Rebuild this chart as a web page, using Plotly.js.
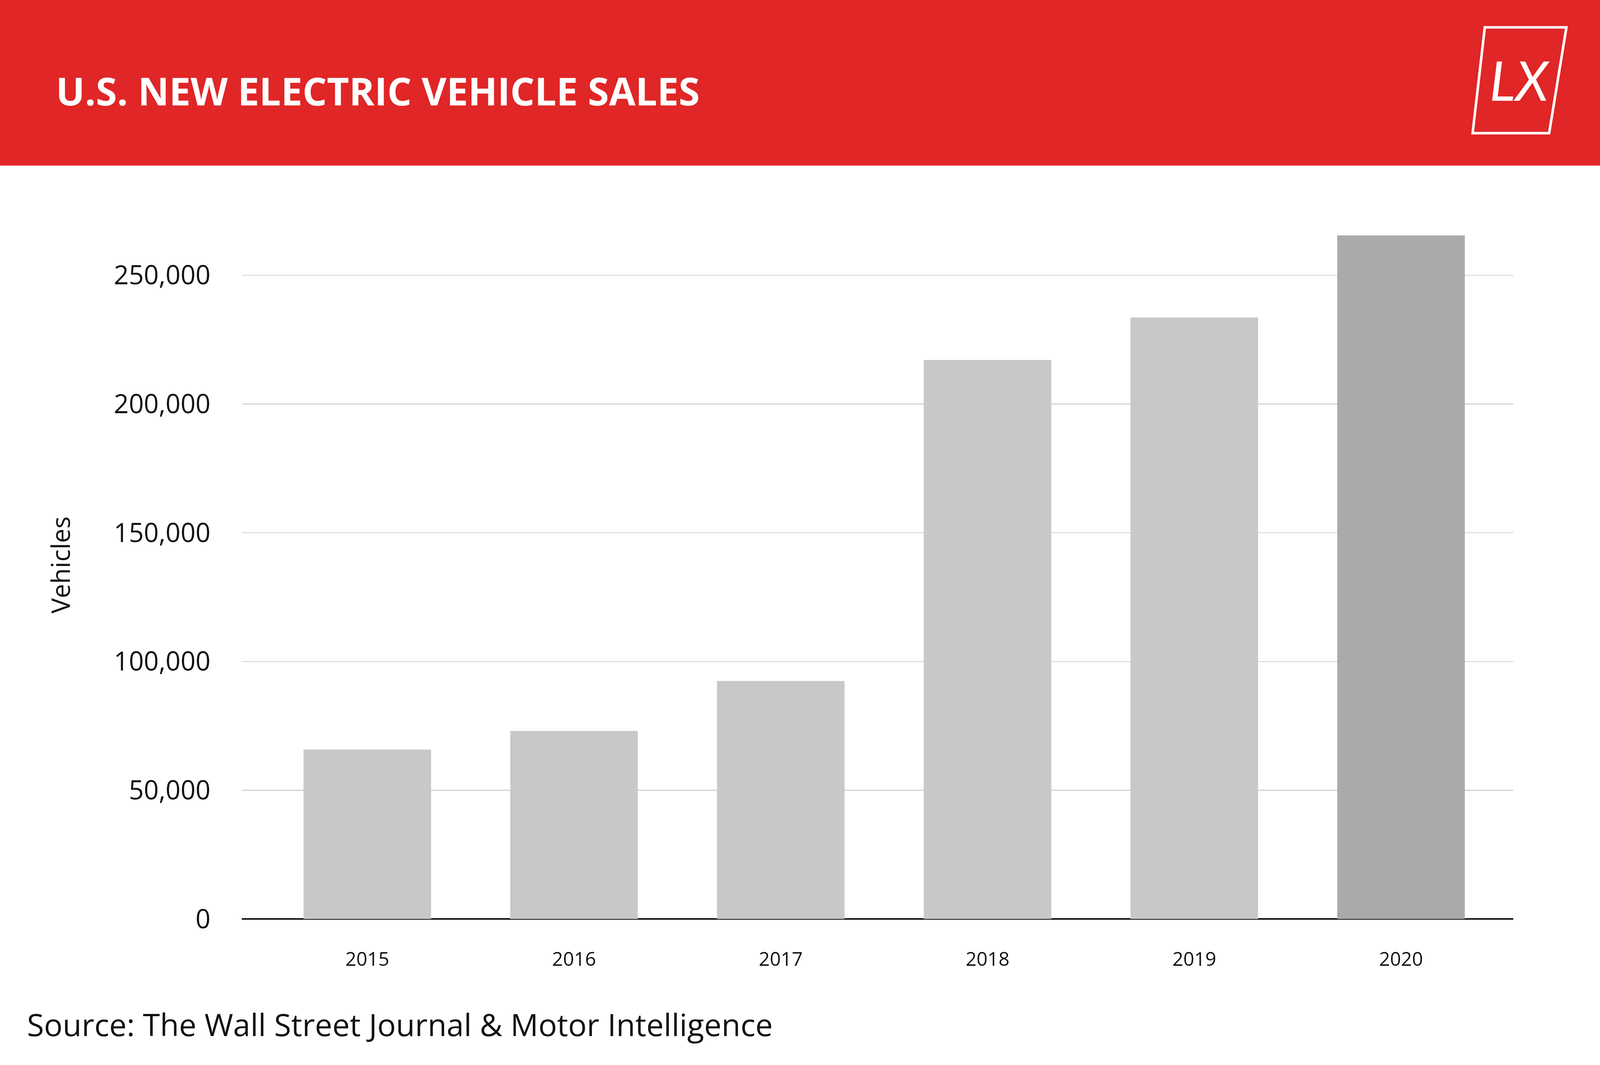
<!DOCTYPE html>
<html>
<head>
<meta charset="utf-8">
<script src="https://cdn.plot.ly/plotly-3.0.1.min.js"></script>
<style>html,body{margin:0;padding:0;background:#fff;overflow:hidden}</style>
</head>
<body>
<div id="graph"></div>
<script>
// U.S. new electric vehicle sales, bar chart
const years = ["2015", "2016", "2017", "2018", "2019", "2020"];
const sales = [65800, 73000, 92400, 217100, 233600, 265500];
const barColors = ["#c8c8c8", "#c8c8c8", "#c8c8c8", "#c8c8c8", "#c8c8c8", "#aaaaaa"];
const yTicks = [0, 50000, 100000, 150000, 200000, 250000];
const yTickText = ["0", "50,000", "100,000", "150,000", "200,000", "250,000"];

// design is in 5000x2727 units, scaled to fill the actual window
const W = window.innerWidth, H = window.innerHeight;
const sx = W / 5000, sy = H / 2727;
const s = Math.min(sx, sy);
const margin = { l: 756 * sx, r: 271 * sx, t: 540 * sy, b: 374 * sy };
const pw = W - margin.l - margin.r;
const ph = H - margin.t - margin.b;
// design pixel -> paper helpers for decorations
const px = (x) => (x * sx - margin.l) / pw;
const py = (y) => (H - margin.b - y * sy) / ph;

const trace = {
  x: years,
  y: sales,
  type: "bar",
  marker: { color: barColors },
  hoverinfo: "none",
};

const logo = [[4640, 70], [4895, 70], [4841, 341], [4602, 341]];
const logoPath = "M " + logo.map((p) => px(p[0]) + "," + py(p[1])).join(" L ") + " Z";

const layout = {
  width: W,
  height: H,
  margin: margin,
  paper_bgcolor: "#fff",
  plot_bgcolor: "#fff",
  bargap: 0.383,
  showlegend: false,
  font: { family: "'Open Sans', Lato, sans-serif", color: "#111" },
  xaxis: {
    type: "category",
    range: [-0.607, 5.543],
    tickfont: { size: 60 * s, color: "#111" },
    ticks: "outside",
    ticklen: 60 * sy,
    tickcolor: "rgba(0,0,0,0)",
    showline: false,
  },
  yaxis: {
    range: [0, 275000],
    tickvals: yTicks,
    ticktext: yTickText,
    tickfont: { size: 82 * s, color: "#111" },
    ticks: "outside",
    ticklen: 80 * sx,
    tickcolor: "rgba(0,0,0,0)",
    gridcolor: "#d2d2d2",
    gridwidth: 3 * s,
    zeroline: true,
    zerolinecolor: "#111",
    zerolinewidth: 6 * s,
    title: { text: "Vehicles", font: { size: 80 * s, color: "#111" }, standoff: 110 * sx },
  },
  shapes: [
    {
      type: "rect", xref: "paper", yref: "paper", layer: "below",
      x0: px(0), x1: px(5000), y0: py(424), y1: py(0),
      fillcolor: "#e02626", line: { width: 0 },
    },
    {
      type: "path", xref: "paper", yref: "paper",
      path: logoPath, line: { color: "#fff", width: 8 * s },
    },
  ],
  annotations: [
    {
      xref: "paper", yref: "paper", x: px(172), y: py(232),
      xanchor: "left", yanchor: "middle", showarrow: false,
      text: "<b>U.S. NEW ELECTRIC VEHICLE SALES</b>",
      font: { size: 120 * s, color: "#fff", family: "'Open Sans', sans-serif" },
    },
    {
      xref: "paper", yref: "paper", x: px(4748), y: py(205),
      xanchor: "center", yanchor: "middle", showarrow: false,
      text: "<i>LX</i>",
      font: { size: 170 * s, color: "#fff", family: "Lato, sans-serif" },
    },
    {
      xref: "paper", yref: "paper", x: px(82), y: py(2622),
      xanchor: "left", yanchor: "middle", showarrow: false,
      text: "Source: The Wall Street Journal &amp; Motor Intelligence",
      font: { size: 97 * s, color: "#111" },
    },
  ],
};

Plotly.newPlot("graph", [trace], layout, { staticPlot: true });
</script>
</body>
</html>
